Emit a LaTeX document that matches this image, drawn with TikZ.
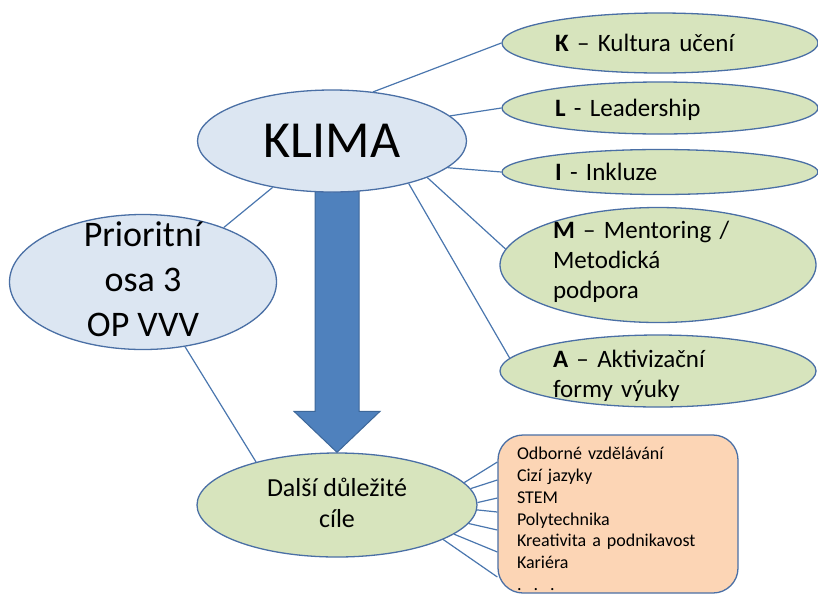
\documentclass[tikz,border=0pt]{standalone}
\usepackage{fontspec}
\setmainfont{Carlito}
\usetikzlibrary{calc, positioning, shapes.geometric, backgrounds}
\definecolor{edgeblue}{HTML}{4A6FA5}
\definecolor{linkblue}{HTML}{4A76AE}
\definecolor{softblue}{HTML}{DCE6F2}
\definecolor{softgreen}{HTML}{D7E4BD}
\definecolor{softpeach}{HTML}{FCD5B5}
\definecolor{arrowblue}{HTML}{4F81BD}
\definecolor{arrowedge}{HTML}{3D6799}

\begin{document}
\begin{tikzpicture}[
    x=1pt, y=-1pt,
    every node/.style={text=black},
    hub/.style={ellipse, draw=edgeblue, fill=softblue, line width=1.3pt, inner sep=0pt},
    pillar/.style={ellipse, draw=edgeblue, fill=softgreen, line width=1.3pt, inner sep=0pt, minimum width=316pt},
    pillartext/.style={text width=210pt, align=left, inner sep=0pt, font=\fontsize{25}{30}\selectfont},
    listbox/.style={rectangle, rounded corners=25pt, draw=edgeblue, fill=softpeach, line width=1.3pt, minimum width=240pt, minimum height=158pt, inner sep=0pt},
    listtext/.style={text width=202pt, align=left, inner sep=0pt, font=\fontsize{18}{21.8}\selectfont},
    link/.style={draw=linkblue, line width=1.2pt},
    bigarrow/.style={fill=arrowblue, draw=arrowedge, line width=1pt, line join=miter}
]
\useasboundingbox (0,0) rectangle (818,595);

% main ellipses
\node[hub, minimum width=269pt, minimum height=102pt, font=\fontsize{52}{60}\selectfont] (klima) at (332,141) {KLIMA};
\node[hub, minimum width=267pt, minimum height=135pt] (osa) at (143,282) {};
\node[align=center, inner sep=0pt, font=\fontsize{36}{45}\selectfont] (osa text) at (143,279) {Prioritní\\osa 3\\OP VVV};
\node[pillar, minimum width=280pt, minimum height=104pt] (dalsi) at (337,505) {};
\node[align=center, inner sep=0pt, font=\fontsize{26}{31}\selectfont] (dalsi text) at (337,503) {Další důležité\\cíle};

% KLIMA pillars
\node[pillar, minimum height=60pt] (kult) at (660,43) {};
\node[pillartext] (kult text) at (kult) {\textbf{K} – Kultura učení};
\node[pillar, minimum height=52pt] (lead) at (660,108) {};
\node[pillartext] (lead text) at ($(lead)+(0,2)$) {\textbf{L} - Leadership};
\node[pillar, minimum height=45pt] (inkl) at (660,172) {};
\node[pillartext] (inkl text) at (inkl) {\textbf{I} - Inkluze};
\node[pillar, minimum height=115pt] (ment) at (658,265) {};
\node[pillartext] (ment text) at ($(ment)+(0,-3)$) {\textbf{M} – Mentoring /\\Metodická\\podpora};
\node[pillar, minimum height=72pt] (aktiv) at (658,371) {};
\node[pillartext] (aktiv text) at ($(aktiv)+(0,5)$) {\textbf{A} – Aktivizační\\formy výuky};

% other goals
\node[listbox] (cile) at (618,514) {};
\node[listtext] (cile text) at ($(cile)+(0,5)$) {Odborné vzdělávání\\Cizí jazyky\\STEM\\Polytechnika\\Kreativita a podnikavost\\Kariéra\\.\hspace{12pt}.\hspace{12pt}.};

% big arrow behind the ellipses
\begin{scope}[on background layer]
  \coordinate (shaft top) at (dalsi.north |- klima.south);
  \draw[bigarrow] ($(shaft top)+(-22,-5)$) -- ($(dalsi.north)+(-22,-41)$) -- ($(dalsi.north)+(-43,-41)$) -- (dalsi.north)
    -- ($(dalsi.north)+(43,-41)$) -- ($(dalsi.north)+(22,-41)$) -- ($(shaft top)+(22,-5)$) -- cycle;
\end{scope}

% connectors
\draw[link] (klima.50) -- (kult.west);
\draw[link] (klima.12) -- (lead.west);
\draw[link] (klima.-13) -- (inkl.west);
\draw[link] (klima.-21) -- (ment.174);
\draw[link] (klima.-29) -- (aktiv.175);
\draw[link] (osa.34) -- (klima.218);
\draw[link] (osa.-57) -- (dalsi.152);
\foreach \a/\y in {10/462, 7/480, 1/498, -2/512, -8/530, -14/552, -18/577}
  \draw[link] (dalsi.\a) -- (cile.west |- 0,\y);
\end{tikzpicture}
\end{document}
